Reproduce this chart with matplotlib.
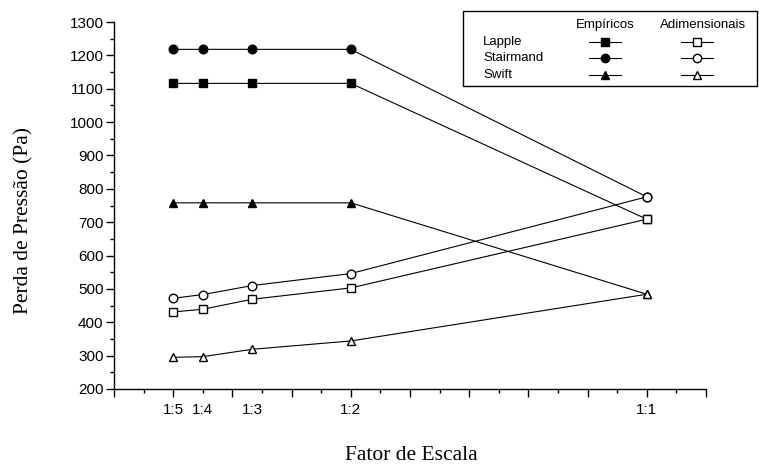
import matplotlib
matplotlib.use("Agg")
import matplotlib.pyplot as plt
from matplotlib.lines import Line2D
from matplotlib.patches import Rectangle
from matplotlib.ticker import MultipleLocator, NullFormatter

# ---- data ----
scale = [0.2, 0.25, 1/3, 0.5, 1.0]
scale_labels = ["1:5", "1:4", "1:3", "1:2", "1:1"]

lapple_emp = [1116, 1116, 1116, 1116, 709]
stairmand_emp = [1218, 1218, 1218, 1218, 776]
swift_emp = [758, 758, 758, 758, 484]

lapple_adim = [431, 439, 469, 503, 709]
stairmand_adim = [472, 483, 510, 546, 776]
swift_adim = [295, 297, 319, 344, 484]

series_names = ["Lapple", "Stairmand", "Swift"]
markers = ["s", "o", "^"]
col_headers = ["Empíricos", "Adimensionais"]

W, H = 759, 466
fig = plt.figure(figsize=(W / 100, H / 100), dpi=100)
ax = fig.add_axes([114 / W, 1 - 389 / H, (706 - 114) / W, (389 - 22) / H])

sans = "Liberation Sans"
serif = "Liberation Serif"
lw = 0.8
ms = 6.2

emp = [lapple_emp, stairmand_emp, swift_emp]
adim = [lapple_adim, stairmand_adim, swift_adim]
for vals, m in zip(emp, markers):
    ax.plot(scale, vals, color="black", lw=lw, marker=m, ms=ms,
            mfc="black", mec="black", zorder=2)
for vals, m in zip(adim, markers):
    ax.plot(scale, vals, color="black", lw=lw, marker=m, ms=ms,
            mfc="white", mec="black", mew=1.0, zorder=3)

ax.set_xlim(0.1, 1.1)
ax.set_ylim(200, 1300)
for s in ["top", "right"]:
    ax.spines[s].set_visible(False)
for s in ["left", "bottom"]:
    ax.spines[s].set_linewidth(1.0)

ax.yaxis.set_major_locator(MultipleLocator(100))
ax.yaxis.set_minor_locator(MultipleLocator(50))
ax.xaxis.set_major_locator(MultipleLocator(0.1))
ax.xaxis.set_minor_locator(MultipleLocator(0.05))
ax.xaxis.set_major_formatter(NullFormatter())
ax.tick_params(axis="both", which="major", direction="out", length=6, width=1.0)
ax.tick_params(axis="both", which="minor", direction="out", length=3, width=1.0)
ax.tick_params(axis="y", labelsize=11, pad=1.5)
for t in ax.get_yticklabels():
    t.set_family(sans)

sec = ax.secondary_xaxis("bottom")
sec.set_xticks(scale, scale_labels)
sec.tick_params(length=0, pad=10, labelsize=11)
sec.spines["bottom"].set_visible(False)
for t in sec.get_xticklabels():
    t.set_family(sans)

fig.text(24 / W, 1 - 220 / H, "Perda de Pressão (Pa)", rotation=90,
         ha="center", va="center", family=serif, fontsize=15.5)
fig.text(411 / W, 1 - 455 / H, "Fator de Escala",
         ha="center", va="center", family=serif, fontsize=15.5)

# ---- legend (manual) ----
def fx(px):
    return px / W

def fy(py):
    return 1 - py / H

fig.add_artist(Rectangle((fx(463), fy(86)), fx(757) - fx(463), fy(11) - fy(86),
                         transform=fig.transFigure, fill=False, ec="black", lw=1.0))
fs_leg = 9.5
fig.text(fx(605), fy(25), col_headers[0], ha="center", va="center", family=sans, fontsize=fs_leg)
fig.text(fx(703), fy(25), col_headers[1], ha="center", va="center", family=sans, fontsize=fs_leg)
rows = [42, 58, 75]
for name, m, ry in zip(series_names, markers, rows):
    fig.text(fx(483), fy(ry), name, ha="left", va="center", family=sans, fontsize=fs_leg)
    for cx, fc in [(605, "black"), (697, "white")]:
        fig.add_artist(Line2D([fx(cx - 16), fx(cx + 16)], [fy(ry), fy(ry)],
                              transform=fig.transFigure, color="black", lw=lw))
        fig.add_artist(Line2D([fx(cx)], [fy(ry)], transform=fig.transFigure,
                              marker=m, ms=6, mfc=fc, mec="black", mew=1.0, lw=0))

fig.savefig("out.png", dpi=100)
